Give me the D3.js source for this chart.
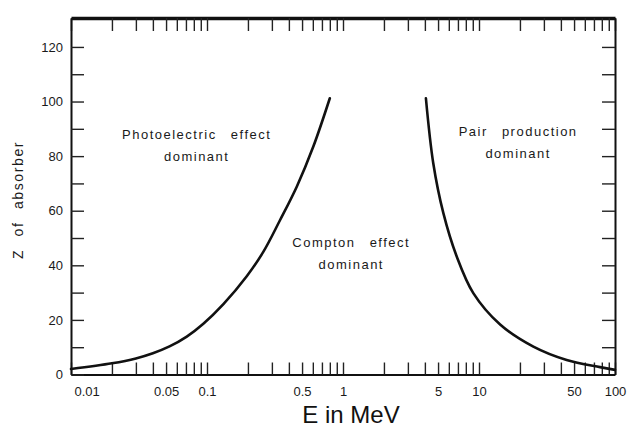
<!DOCTYPE html>
<html>
<head>
<meta charset="utf-8">
<script src="https://cdn.jsdelivr.net/npm/d3@7"></script>
<style>
  body { margin: 0; background: #fff; }
  svg { display: block; }
  .tick text { font-family: "Liberation Sans", Arial, sans-serif; font-size: 13px; fill: #1a1a1a; }
</style>
</head>
<body>
<div id="chart"></div>
<script>
// chart size
const width = 630, height = 427;
const margin = { top: 18, right: 15, bottom: 52.5, left: 71 };

// boundary where photoelectric and compton are equally likely (E in MeV, Z)
const photoE = [0.01, 0.02, 0.03, 0.04, 0.053, 0.071, 0.094, 0.132, 0.196, 0.26, 0.344, 0.457, 0.605, 0.80];
const photoZ = [2.0, 4.1, 5.9, 7.8, 10.3, 13.9, 18.6, 25.8, 36.0, 45.0, 56.5, 68.8, 83.5, 101.2];

// boundary where compton and pair production are equally likely
const pairE = [4.07, 4.61, 5.47, 6.86, 9.08, 14.3, 25.1, 44.1, 77.6, 100];
const pairZ = [101.2, 77.4, 59.1, 43.2, 29.8, 18.3, 10.2, 5.3, 2.7, 1.7];

// tick labels
const xLabels = [0.01, 0.05, 0.1, 0.5, 1, 5, 10, 50, 100];
const yLabels = [0, 20, 40, 60, 80, 100, 120];

// region labels, placed at (E, Z)
const regionText = [["Photoelectric effect", "dominant"], ["Compton effect", "dominant"], ["Pair production", "dominant"]];
const regionE = [0.084, 1.15, 19.4];
const regionZ = [86.3, 46.7, 87.4];

const svg = d3.select("#chart").append("svg")
    .attr("width", width)
    .attr("height", height);

svg.append("rect").attr("width", width).attr("height", height).attr("fill", "#fff");

const x = d3.scaleLog()
    .domain([0.01, 100])
    .range([margin.left, width - margin.right]);

const y = d3.scaleLinear()
    .domain([0, 130.6])
    .range([height - margin.bottom, margin.top]);

// every 1..9 tick of each decade
const logTicks = [];
for (let p = -2; p < 2; p++) {
    for (let m = 1; m < 10; m++) logTicks.push(+(m * Math.pow(10, p)).toPrecision(3));
}
logTicks.push(100);

const yTicks = d3.range(0, 130, 10);

function fmt(d) {
    return xLabels.some(v => Math.abs(v - d) < 1e-9) ? String(d) : "";
}

// bottom axis
const bottom = svg.append("g")
    .attr("transform", `translate(0,${height - margin.bottom})`)
    .call(d3.axisBottom(x).tickValues(logTicks).tickSize(-12).tickSizeOuter(0).tickPadding(12).tickFormat(fmt));
bottom.selectAll(".tick text").filter(d => d === 0.01).attr("text-anchor", "start").attr("dx", 3);

// top axis
svg.append("g")
    .attr("class", "top")
    .attr("transform", `translate(0,${margin.top})`)
    .call(d3.axisTop(x).tickValues(logTicks).tickSize(-13).tickSizeOuter(0).tickFormat(""));

// left axis
svg.append("g")
    .attr("transform", `translate(${margin.left},0)`)
    .call(d3.axisLeft(y).tickValues(yTicks).tickSize(-13).tickSizeOuter(0).tickPadding(8)
        .tickFormat(d => yLabels.includes(d) ? d : ""));

// right axis
svg.append("g")
    .attr("transform", `translate(${width - margin.right},0)`)
    .call(d3.axisRight(y).tickValues(yTicks.filter(d => d > 0)).tickSize(-13).tickSizeOuter(0).tickFormat(""));

svg.selectAll(".domain").attr("stroke", "#111").attr("stroke-width", 2);
svg.selectAll(".tick line").attr("stroke", "#222").attr("stroke-width", 1.4);
svg.select(".top .domain").attr("stroke-width", 3.5);

// boundary curves
const line = d3.line()
    .x(d => x(d[0]))
    .y(d => y(d[1]))
    .curve(d3.curveCatmullRom.alpha(0.5));

[[photoE, photoZ], [pairE, pairZ]].forEach(([es, zs]) => {
    svg.append("path")
        .datum(es.map((e, i) => [e, zs[i]]))
        .attr("d", line)
        .attr("fill", "none")
        .attr("stroke", "#111")
        .attr("stroke-width", 2.6)
        .attr("stroke-linecap", "round");
});

// region labels
regionText.forEach((lines, i) => {
    const t = svg.append("text")
        .attr("x", x(regionE[i]))
        .attr("y", y(regionZ[i]))
        .attr("text-anchor", "middle")
        .style("font-family", "'Liberation Sans', Arial, sans-serif")
        .style("font-size", "13px")
        .style("letter-spacing", "1.5px")
        .style("word-spacing", "9px")
        .attr("fill", "#1a1a1a");
    lines.forEach((s, j) => {
        t.append("tspan")
            .attr("x", x(regionE[i]))
            .attr("dy", j === 0 ? 0 : 22)
            .text(s);
    });
});

// axis titles
svg.append("text")
    .attr("x", 351)
    .attr("y", 423)
    .attr("text-anchor", "middle")
    .style("font-family", "'Liberation Sans', Arial, sans-serif")
    .style("font-size", "24px")
    .attr("fill", "#111")
    .text("E in MeV");

svg.append("text")
    .attr("transform", "translate(23,200) rotate(-90)")
    .attr("text-anchor", "middle")
    .style("font-family", "'Liberation Sans', Arial, sans-serif")
    .style("font-size", "14px")
    .style("letter-spacing", "1.6px")
    .style("word-spacing", "7px")
    .attr("fill", "#1a1a1a")
    .text("Z of absorber");
</script>
</body>
</html>
